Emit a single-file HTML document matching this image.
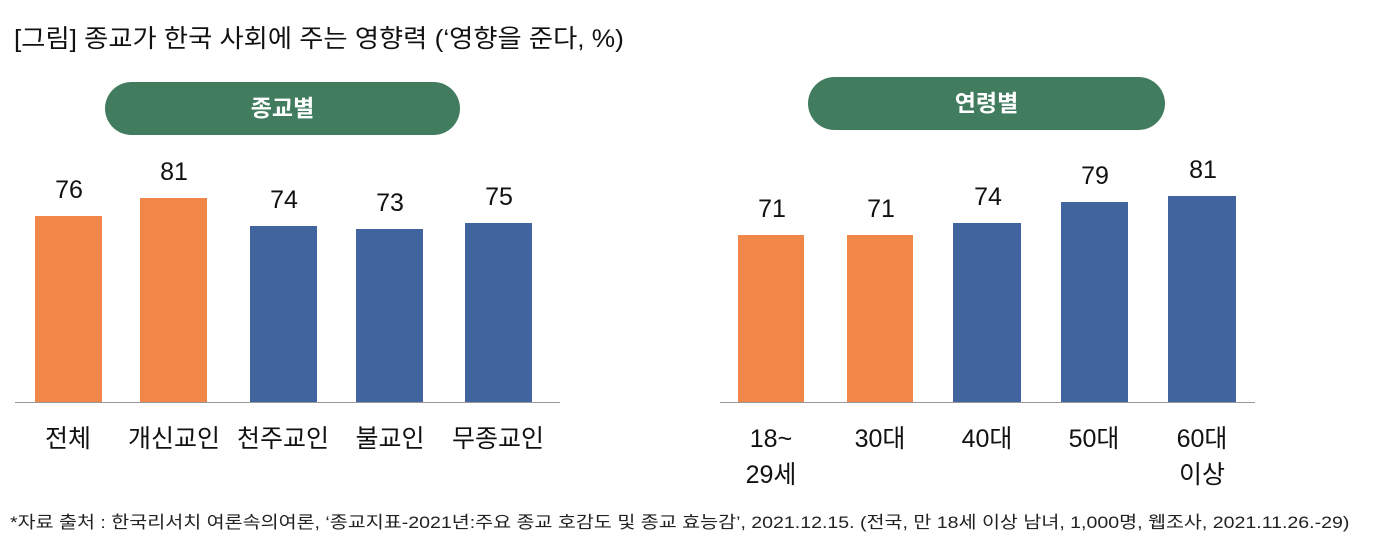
<!DOCTYPE html>
<html><head><meta charset="utf-8"><style>
body{margin:0;background:#fff;width:1380px;height:556px;overflow:hidden;position:relative;font-family:"Liberation Sans","Noto Sans CJK KR",sans-serif;color:#111}
.a{position:absolute}
.pill{position:absolute;background:#427c5e;color:#fff;border-radius:27px;font-size:23px;font-weight:bold;text-align:center}
.bar{position:absolute}
.o{background:#f08748}.b{background:#41649e}
.v{position:absolute;width:100px;text-align:center;font-size:25px;margin-left:-16px}
.c{position:absolute;width:140px;text-align:center;font-size:25px;line-height:36px}
.base{position:absolute;height:1px;background:#999;top:402px}
</style></head><body>
<div class="a" style="left:14px;top:19px;font-size:25px;transform:scaleX(1.05);transform-origin:0 0">[그림] 종교가 한국 사회에 주는 영향력 (‘영향을 준다, %)</div>
<div class="pill" style="left:105px;top:82px;width:355px;height:53px;line-height:53px">종교별</div>
<div class="pill" style="left:808px;top:77px;width:357px;height:53px;line-height:53px">연령별</div>
<div class="base" style="left:15px;width:545px"></div>
<div class="base" style="left:720px;width:535px"></div>

<div class="bar o" style="left:35px;top:216px;width:67px;height:186px"></div><div class="v" style="left:35px;top:176px">76</div>
<div class="bar o" style="left:140px;top:198px;width:67px;height:204px"></div><div class="v" style="left:140px;top:158px">81</div>
<div class="bar b" style="left:250px;top:226px;width:67px;height:176px"></div><div class="v" style="left:250px;top:186px">74</div>
<div class="bar b" style="left:356px;top:229px;width:67px;height:173px"></div><div class="v" style="left:356px;top:189px">73</div>
<div class="bar b" style="left:465px;top:223px;width:67px;height:179px"></div><div class="v" style="left:465px;top:183px">75</div>

<div class="c" style="left:-2px;top:421px">전체</div>
<div class="c" style="left:104px;top:421px">개신교인</div>
<div class="c" style="left:213px;top:421px">천주교인</div>
<div class="c" style="left:320px;top:421px">불교인</div>
<div class="c" style="left:428px;top:421px">무종교인</div>

<div class="bar o" style="left:738px;top:235px;width:66px;height:167px"></div><div class="v" style="left:738px;top:195px">71</div>
<div class="bar o" style="left:847px;top:235px;width:66px;height:167px"></div><div class="v" style="left:847px;top:195px">71</div>
<div class="bar b" style="left:953px;top:223px;width:68px;height:179px"></div><div class="v" style="left:954px;top:183px">74</div>
<div class="bar b" style="left:1061px;top:202px;width:67px;height:200px"></div><div class="v" style="left:1061px;top:162px">79</div>
<div class="bar b" style="left:1168px;top:196px;width:68px;height:206px"></div><div class="v" style="left:1169px;top:156px">81</div>

<div class="c" style="left:701px;top:421px">18~<br>29세</div>
<div class="c" style="left:810px;top:421px">30대</div>
<div class="c" style="left:917px;top:421px">40대</div>
<div class="c" style="left:1024px;top:421px">50대</div>
<div class="c" style="left:1132px;top:421px">60대<br>이상</div>

<div class="a" style="left:10px;top:508px;font-size:17px;color:#222;white-space:nowrap;transform:scaleX(1.15);transform-origin:0 0">*자료 출처 : 한국리서치 여론속의여론, ‘종교지표-2021년:주요 종교 호감도 및 종교 효능감’, 2021.12.15. (전국, 만 18세 이상 남녀, 1,000명, 웹조사, 2021.11.26.-29)</div>
</body></html>
